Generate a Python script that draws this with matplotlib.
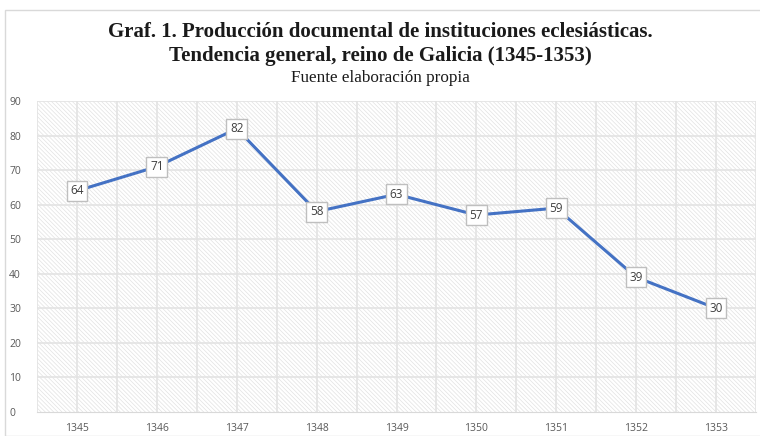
import matplotlib.pyplot as plt
from matplotlib.patches import Rectangle
import numpy as np

years = ['1345', '1346', '1347', '1348', '1349', '1350', '1351', '1352', '1353']
docs = [64, 71, 82, 58, 63, 57, 59, 39, 30]

plt.rcParams['hatch.linewidth'] = 0.5
plt.rcParams['hatch.color'] = '#e2e2e2'

fig = plt.figure(figsize=(7.6, 4.36), dpi=100)
# outer chart frame
fig.patches.append(Rectangle((5 / 760, 0), 1, 1 - 10 / 436, transform=fig.transFigure,
                             fill=False, edgecolor='#d9d9d9', linewidth=1))

ax = fig.add_axes([37 / 760, 1 - 412 / 436, 719 / 760, 311 / 436])
x = np.arange(len(years))

ax.add_patch(Rectangle((0, 0), 1, 1, transform=ax.transAxes, facecolor='white',
                       hatch='\\' * 8, edgecolor='#e2e2e2', linewidth=0, zorder=0))

ax.set_xlim(-0.5, len(years) - 0.5)
ax.set_ylim(0, 90)
ax.set_yticks(range(0, 91, 10))
ax.set_xticks(x)
ax.set_xticklabels(years)
for v in np.arange(-0.5, len(years), 0.5):
    ax.axvline(v, color='#e3e3e3', linewidth=1.2, zorder=1)
for v in range(10, 91, 10):
    ax.axhline(v, color='#e3e3e3', linewidth=1.2, zorder=1)

ax.plot(x, docs, color='#4472c4', linewidth=2.2, zorder=3)
for xi, yi in zip(x, docs):
    ax.text(xi, yi, str(yi), ha='center', va='center', fontsize=8.5, color='#404040',
            family='Open Sans', zorder=4,
            bbox=dict(boxstyle='square,pad=0.3', facecolor='white', edgecolor='#bfbfbf', linewidth=1))

for s in ['top', 'right', 'left']:
    ax.spines[s].set_visible(False)
ax.spines['bottom'].set_color('#d9d9d9')
ax.tick_params(length=0, labelsize=7.5, labelcolor='#595959', pad=8)
ax.tick_params(axis='y', pad=20)
for lab in ax.get_xticklabels() + ax.get_yticklabels():
    lab.set_family('Open Sans')
for lab in ax.get_yticklabels():
    lab.set_ha('left')

fig.text(0.5, 1 - 32 / 436, 'Graf. 1. Producción documental de instituciones eclesiásticas.',
         ha='center', va='center', fontsize=15, fontweight='bold', family='Liberation Serif', color='#1a1a1a')
fig.text(0.5, 1 - 56 / 436, 'Tendencia general, reino de Galicia (1345-1353)',
         ha='center', va='center', fontsize=15, fontweight='bold', family='Liberation Serif', color='#1a1a1a')
fig.text(0.5, 1 - 78 / 436, 'Fuente elaboración propia',
         ha='center', va='center', fontsize=12.3, family='Liberation Serif', color='#1a1a1a')

fig.savefig('out.png', dpi=100)
